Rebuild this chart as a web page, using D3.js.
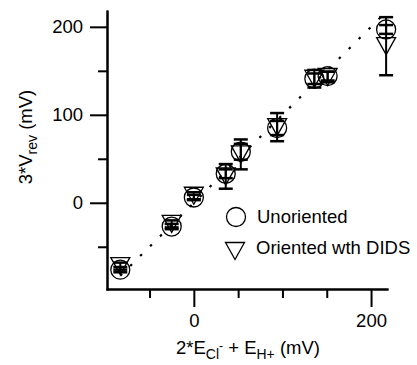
<!DOCTYPE html>
<html>
<head>
<meta charset="utf-8">
<script src="https://cdn.jsdelivr.net/npm/d3@7"></script>
<style>
  body { margin: 0; background: #fff; }
  svg text { font-family: "Liberation Sans", Arial, sans-serif; fill: #000; }
</style>
</head>
<body>
<svg id="chart" width="417" height="365"></svg>
<script>
// x values (mV) shared by both series
let xVals = [-83, -25, 0, 36, 53, 94, 136, 151, 217]
// unoriented (circles)
let unoriented = [-76, -27, 6, 33, 58, 85, 141, 144, 197]
let unorientedErr = [3, 3, 3, 5, 9, 8, 6, 5, 5]
// oriented with DIDS (triangles)
let oriented = [-72, -24, 8, 30, 55, 86, 141, 143, 178]
let orientedErr = [4, 4, 4, 14, 17, 16, 10, 6, 33]

let majorTicksY = [0, 100, 200]
let minorTicksY = [-50, 50, 150]
let majorTicksX = [0, 200]
let minorTicksX = [-50, 50, 100, 150]
let fitLine = [-83, 215]

var fs = "18.5px", fsSub = "14px"

var svg = d3.select("#chart")
var x = d3.scaleLinear().domain([-98, 218]).range([107, 387])
var y = d3.scaleLinear().domain([-98, 218]).range([289, 11])

// axes : long ticks with labels, short ticks without
function styleAxis(g){
  g.select(".domain").attr("stroke-width", 2)
  g.selectAll(".tick line").attr("stroke-width", 2)
  g.selectAll(".tick text").style("font-size", fs)
}
svg.append("g").attr("transform", "translate(107,0)")
  .call(d3.axisLeft(y).tickValues(minorTicksY).tickSize(9).tickSizeOuter(0).tickFormat(""))
  .call(styleAxis)
svg.append("g").attr("transform", "translate(107,0)")
  .call(d3.axisLeft(y).tickValues(majorTicksY).tickSize(17).tickSizeOuter(0).tickPadding(7))
  .call(styleAxis)
svg.append("g").attr("transform", "translate(0,289)")
  .call(d3.axisBottom(x).tickValues(minorTicksX).tickSize(9).tickSizeOuter(0).tickFormat(""))
  .call(styleAxis)
svg.append("g").attr("transform", "translate(0,289)")
  .call(d3.axisBottom(x).tickValues(majorTicksX).tickSize(18).tickSizeOuter(0).tickPadding(7))
  .call(styleAxis)
svg.selectAll(".domain").attr("stroke-linecap", "square")

// dotted identity line
svg.append("line")
  .attr("x1", x(fitLine[0])).attr("y1", y(fitLine[0]))
  .attr("x2", x(fitLine[1])).attr("y2", y(fitLine[1]))
  .attr("stroke", "#000").attr("stroke-width", 2.2)
  .attr("stroke-dasharray", "2.5,11.5")

// error bars
function errorBars(vals, errs){
  var g = svg.append("g").attr("stroke", "#000").attr("stroke-width", 2)
  xVals.forEach(function(d, i){
    var cx = x(d), top = y(vals[i] + errs[i]), bot = y(vals[i] - errs[i])
    g.append("line").attr("x1", cx).attr("x2", cx).attr("y1", top).attr("y2", bot)
    g.append("line").attr("x1", cx - 7).attr("x2", cx + 7).attr("y1", top).attr("y2", top).attr("stroke-width", 2.5)
    g.append("line").attr("x1", cx - 7).attr("x2", cx + 7).attr("y1", bot).attr("y2", bot).attr("stroke-width", 2.5)
  })
}
errorBars(unoriented, unorientedErr)
errorBars(oriented, orientedErr)

var triPath = "M-9.5,-8.5L9.5,-8.5L0,8.5Z"

svg.append("g").selectAll("circle").data(xVals).enter().append("circle")
  .attr("cx", function(d){ return x(d) })
  .attr("cy", function(d, i){ return y(unoriented[i]) })
  .attr("r", 9.5)
  .attr("fill", "none").attr("stroke", "#000").attr("stroke-width", 1.3)

svg.append("g").selectAll("path").data(xVals).enter().append("path")
  .attr("d", triPath)
  .attr("transform", function(d, i){ return `translate(${x(d)},${y(oriented[i])})` })
  .attr("fill", "none").attr("stroke", "#000").attr("stroke-width", 1.3)

// legend
svg.append("circle").attr("cx", 236).attr("cy", 217).attr("r", 9.5)
  .attr("fill", "none").attr("stroke", "#000").attr("stroke-width", 1.3)
svg.append("text").text("Unoriented").attr("x", 257).attr("y", 223).style("font-size", fs)
svg.append("path").attr("d", triPath).attr("transform", "translate(235,251)")
  .attr("fill", "none").attr("stroke", "#000").attr("stroke-width", 1.3)
svg.append("text").text("Oriented wth DIDS").attr("x", 256).attr("y", 254).style("font-size", fs)

// axis titles
var xt = svg.append("text").attr("x", 248).attr("y", 354).attr("text-anchor", "middle").style("font-size", fs)
xt.append("tspan").text("2*E")
xt.append("tspan").text("Cl").attr("dy", 5).style("font-size", fsSub)
xt.append("tspan").text("-").attr("dy", -9).style("font-size", "12px")
xt.append("tspan").text(" + E").attr("dy", 4)
xt.append("tspan").text("H+").attr("dy", 5).style("font-size", fsSub)
xt.append("tspan").text(" (mV)").attr("dy", -5)

var yt = svg.append("text").attr("transform", "translate(32,137) rotate(-90)")
  .attr("text-anchor", "middle").style("font-size", fs)
yt.append("tspan").text("3*V")
yt.append("tspan").text("rev").attr("dy", 5).style("font-size", fsSub)
yt.append("tspan").text(" (mV)").attr("dy", -5)
</script>
</body>
</html>
